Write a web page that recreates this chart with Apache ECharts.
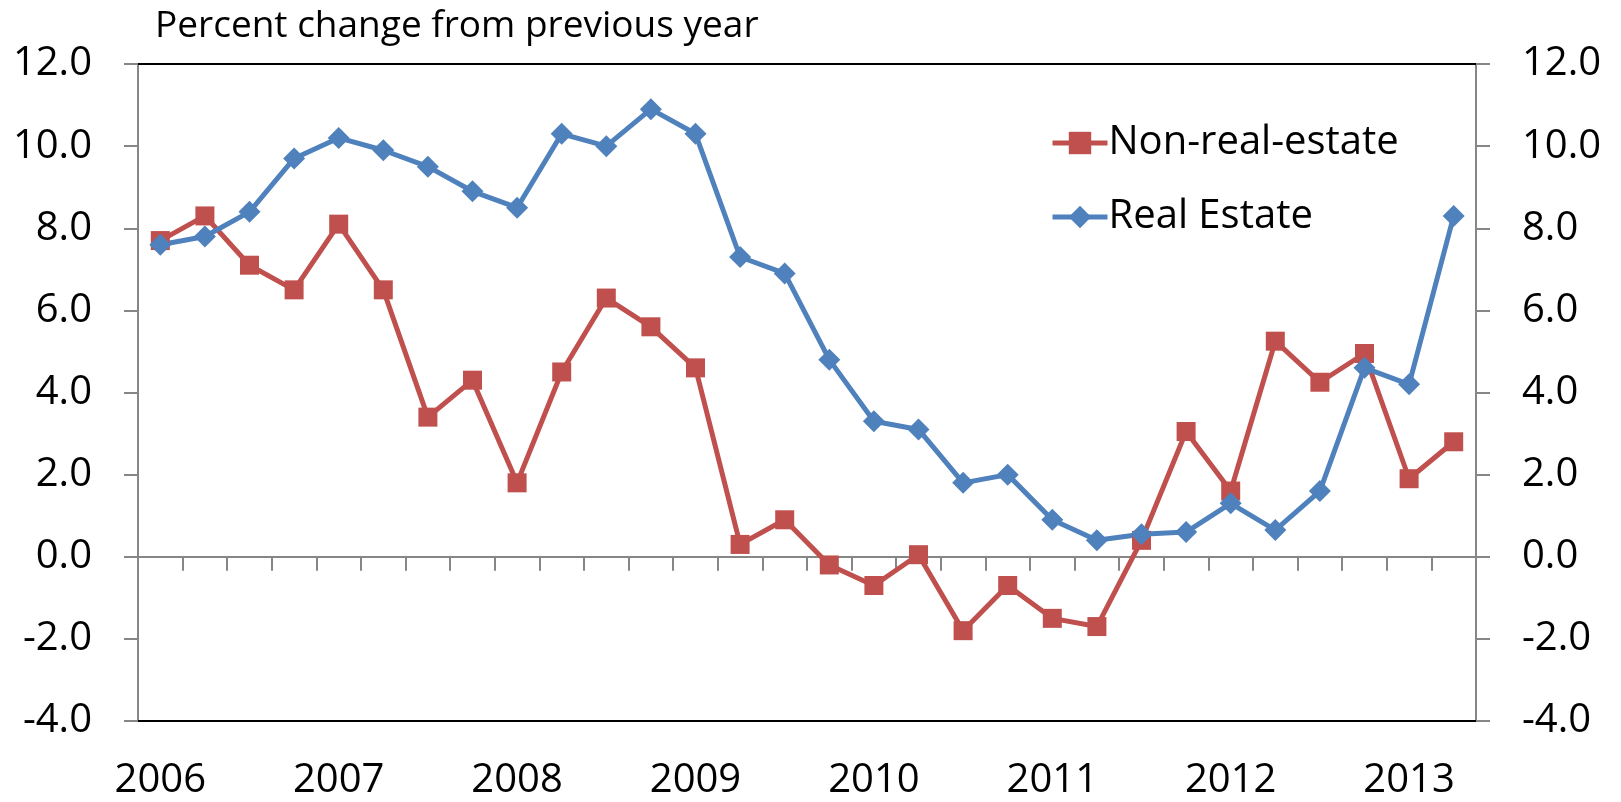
<!DOCTYPE html>
<html>
<head>
<meta charset="utf-8">
<script src="https://cdn.jsdelivr.net/npm/echarts@6/dist/echarts.min.js"></script>
<style>
html,body{margin:0;padding:0;background:#fff;}
#chart{width:1621px;height:802px;}
</style>
</head>
<body>
<div id="chart"></div>
<script>
var quarters = ['2006Q1','2006Q2','2006Q3','2006Q4','2007Q1','2007Q2','2007Q3','2007Q4',
  '2008Q1','2008Q2','2008Q3','2008Q4','2009Q1','2009Q2','2009Q3','2009Q4',
  '2010Q1','2010Q2','2010Q3','2010Q4','2011Q1','2011Q2','2011Q3','2011Q4',
  '2012Q1','2012Q2','2012Q3','2012Q4','2013Q1','2013Q2'];
var nonRealEstate = [7.7,8.3,7.1,6.5,8.1,6.5,3.4,4.3,1.8,4.5,6.3,5.6,4.6,0.3,0.9,-0.2,
  -0.7,0.05,-1.8,-0.7,-1.5,-1.7,0.4,3.05,1.6,5.25,4.25,4.95,1.9,2.8];
var realEstate = [7.6,7.8,8.4,9.7,10.2,9.9,9.5,8.9,8.5,10.3,10.0,10.9,10.3,7.3,6.9,4.8,
  3.3,3.1,1.8,2.0,0.9,0.4,0.55,0.6,1.3,0.65,1.6,4.6,4.2,8.3];
var yTicks = [-4,-2,0,2,4,6,8,10,12];
var titleText = 'Percent change from previous year';

var FONT = 'Open Sans';
var chart = echarts.init(document.getElementById('chart'));
var yAxisCommon = {
  type: 'value', min: yTicks[0], max: yTicks[yTicks.length-1], interval: 2,
  splitLine: {show: false},
  axisLine: {show: true, onZero: false, lineStyle: {color: '#868686', width: 2}},
  axisTick: {show: true, length: 14, lineStyle: {color: '#868686', width: 2}},
  axisLabel: {margin: 46, fontFamily: FONT, fontSize: 40, color: '#000',
    formatter: function(v){ return v.toFixed(1); }}
};
chart.setOption({
  animation: false,
  backgroundColor: '#fff',
  title: {text: titleText, left: 150, top: 3,
    textStyle: {fontFamily: FONT, fontSize: 37, fontWeight: 'normal', color: '#000'}},
  legend: {
    orient: 'vertical', left: 1045, top: 118, itemGap: 34,
    itemWidth: 55, itemHeight: 28,
    lineStyle: {width: 5},
    textStyle: {fontFamily: FONT, fontSize: 40, color: '#000', padding: [0,0,0,-4]},
    data: ['Non-real-estate','Real Estate']
  },
  grid: {left: 138, right: 145, top: 64, bottom: 81, containLabel: false},
  xAxis: [
    {type: 'category', data: quarters, boundaryGap: true,
      axisLine: {show: true, onZero: true, lineStyle: {color: '#868686', width: 2}},
      axisTick: {show: true, interval: 0, length: 14, lineStyle: {color: '#868686', width: 2}},
      axisLabel: {show: false}},
    {type: 'category', data: quarters, boundaryGap: true, position: 'bottom',
      axisLine: {show: true, onZero: false, lineStyle: {color: '#000', width: 2}},
      axisTick: {show: false},
      axisLabel: {show: true, margin: 40, fontFamily: FONT, fontSize: 40, color: '#000',
        interval: function(i){ return i % 4 === 0; },
        formatter: function(v){ return v.slice(0,4); }}},
    {type: 'category', data: quarters, boundaryGap: true, position: 'top',
      axisLine: {show: true, onZero: false, lineStyle: {color: '#000', width: 2}},
      axisTick: {show: false}, axisLabel: {show: false}}
  ],
  yAxis: [
    Object.assign({}, yAxisCommon, {position: 'left'}),
    Object.assign({}, yAxisCommon, {position: 'right'})
  ],
  series: [
    {name: 'Non-real-estate', type: 'line', data: nonRealEstate, xAxisIndex: 0, yAxisIndex: 0,
      symbol: 'rect', symbolSize: 19, color: '#C0504D',
      lineStyle: {width: 5, color: '#C0504D'}, itemStyle: {color: '#C0504D'}},
    {name: 'Real Estate', type: 'line', data: realEstate, xAxisIndex: 0, yAxisIndex: 0,
      symbol: 'diamond', symbolSize: 22, color: '#4F81BD',
      lineStyle: {width: 5, color: '#4F81BD'}, itemStyle: {color: '#4F81BD'}}
  ]
});
</script>
</body>
</html>
